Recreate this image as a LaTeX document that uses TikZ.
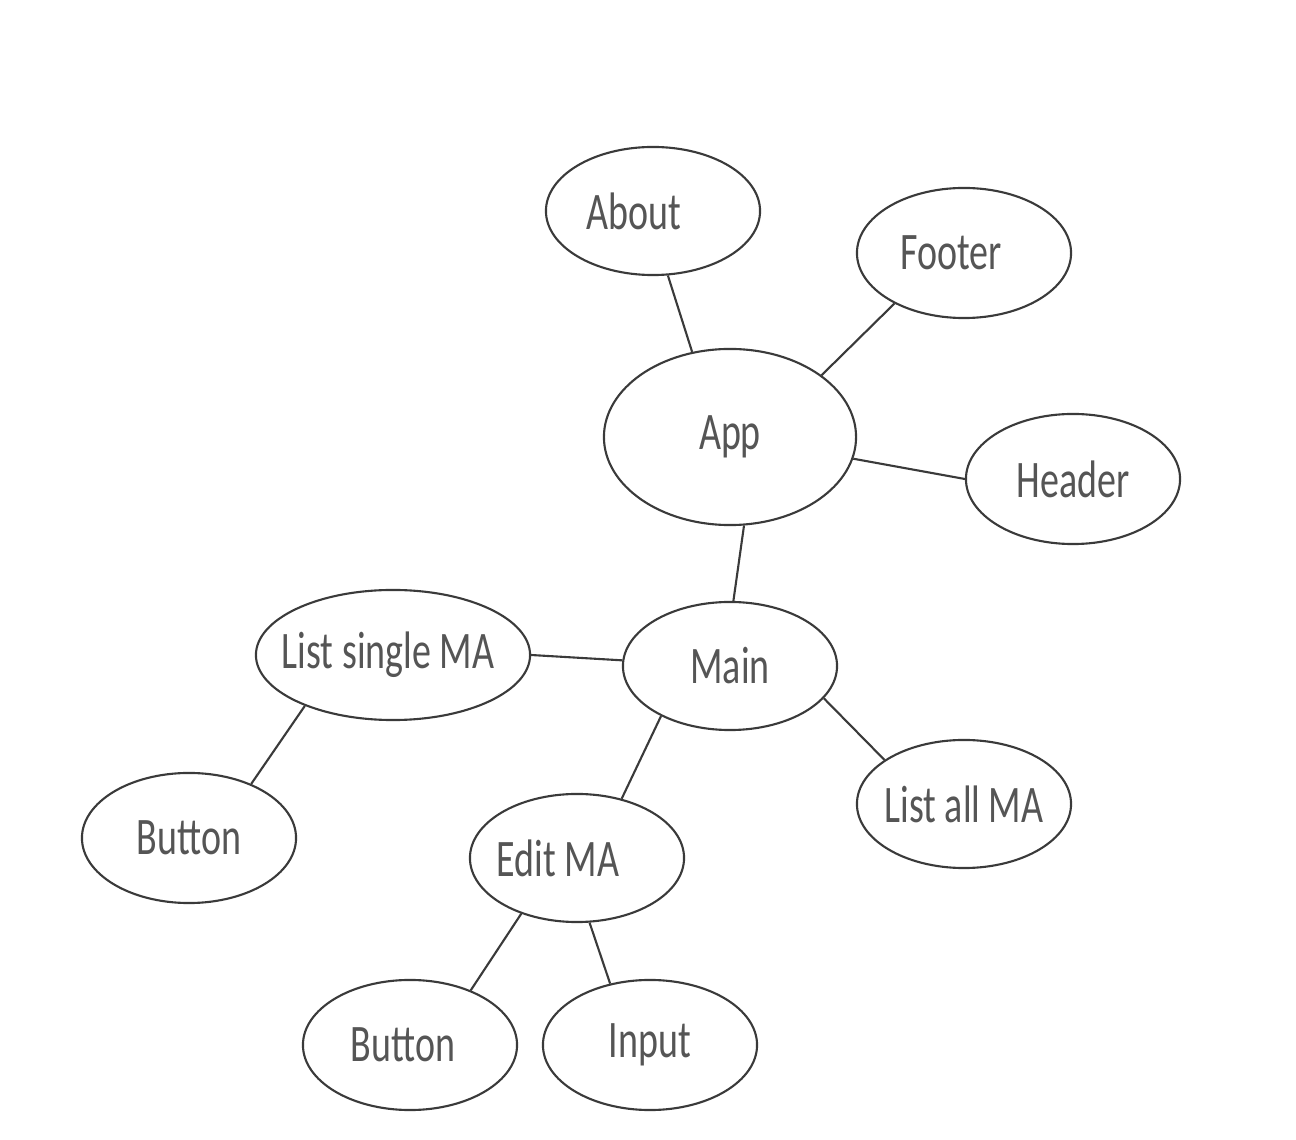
\documentclass[tikz,border=0pt]{standalone}
\usepackage{fontspec}
\setmainfont[FakeStretch=0.72]{Carlito}
\usepackage{tikz}
\usepackage{color}
\usetikzlibrary{shapes.geometric}

\definecolor{inkline}{HTML}{3A3A3A}
\definecolor{inktext}{HTML}{555555}

\begin{document}
\begin{tikzpicture}[%
      x=0.01cm, y=-0.01cm,
      bubble/.style={ellipse, draw=inkline, line width=0.6pt, inner sep=0pt,
        text=inktext, font=\fontsize{15}{18}\selectfont},
      link/.style={color=inkline, line width=0.6pt},
      ]
      \useasboundingbox (0,0) rectangle (1296,1140);

      \node [bubble, minimum width=2.14cm, minimum height=1.28cm] (about) at (653,211) {\makebox[0pt]{About\hspace{10.8pt}}};
      \node [bubble, minimum width=2.14cm, minimum height=1.30cm] (footer) at (964,253) {\makebox[0pt]{Footer\hspace{7.4pt}}};
      \node [bubble, minimum width=2.52cm, minimum height=1.76cm] (app) at (730,437) {\makebox[0pt]{App}};
      \node [bubble, minimum width=2.14cm, minimum height=1.30cm] (header) at (1073,479) {\makebox[0pt]{Header}};
      \node [bubble, minimum width=2.14cm, minimum height=1.28cm] (main) at (730,666) {\makebox[0pt]{Main}};
      \node [bubble, minimum width=2.74cm, minimum height=1.30cm] (listsingle) at (393,655) {\makebox[0pt]{List single MA\hspace{2.8pt}}};
      \node [bubble, minimum width=2.14cm, minimum height=1.30cm] (btnleft) at (189,838) {\makebox[0pt]{Button}};
      \node [bubble, minimum width=2.14cm, minimum height=1.28cm] (listall) at (964,804) {\makebox[0pt]{List all MA}};
      \node [bubble, minimum width=2.14cm, minimum height=1.28cm] (edit) at (577,858) {\makebox[0pt]{Edit MA\hspace{10.8pt}}};
      \node [bubble, minimum width=2.14cm, minimum height=1.30cm] (btnbottom) at (410,1045) {\makebox[0pt]{Button\hspace{4pt}}};
      \node [bubble, minimum width=2.14cm, minimum height=1.30cm] (input) at (650,1045) {\makebox[0pt]{Input}};

      \draw [link] (about.-77) -- (app.114);
      \draw [link] (footer.-144) -- (app.34);
      \draw [link] (app.-10) -- (header.180);
      \draw [link] (app.-81) -- (main.87);
      \draw [link] (listsingle.0) -- (main.177);
      \draw [link] (listsingle.-150) -- (btnleft.41);
      \draw [link] (main.-144) -- (edit.53);
      \draw [link] (main.-19) -- (listall.151);
      \draw [link] (edit.-135) -- (btnbottom.42);
      \draw [link] (edit.-79) -- (input.123);
\end{tikzpicture}
\end{document}
